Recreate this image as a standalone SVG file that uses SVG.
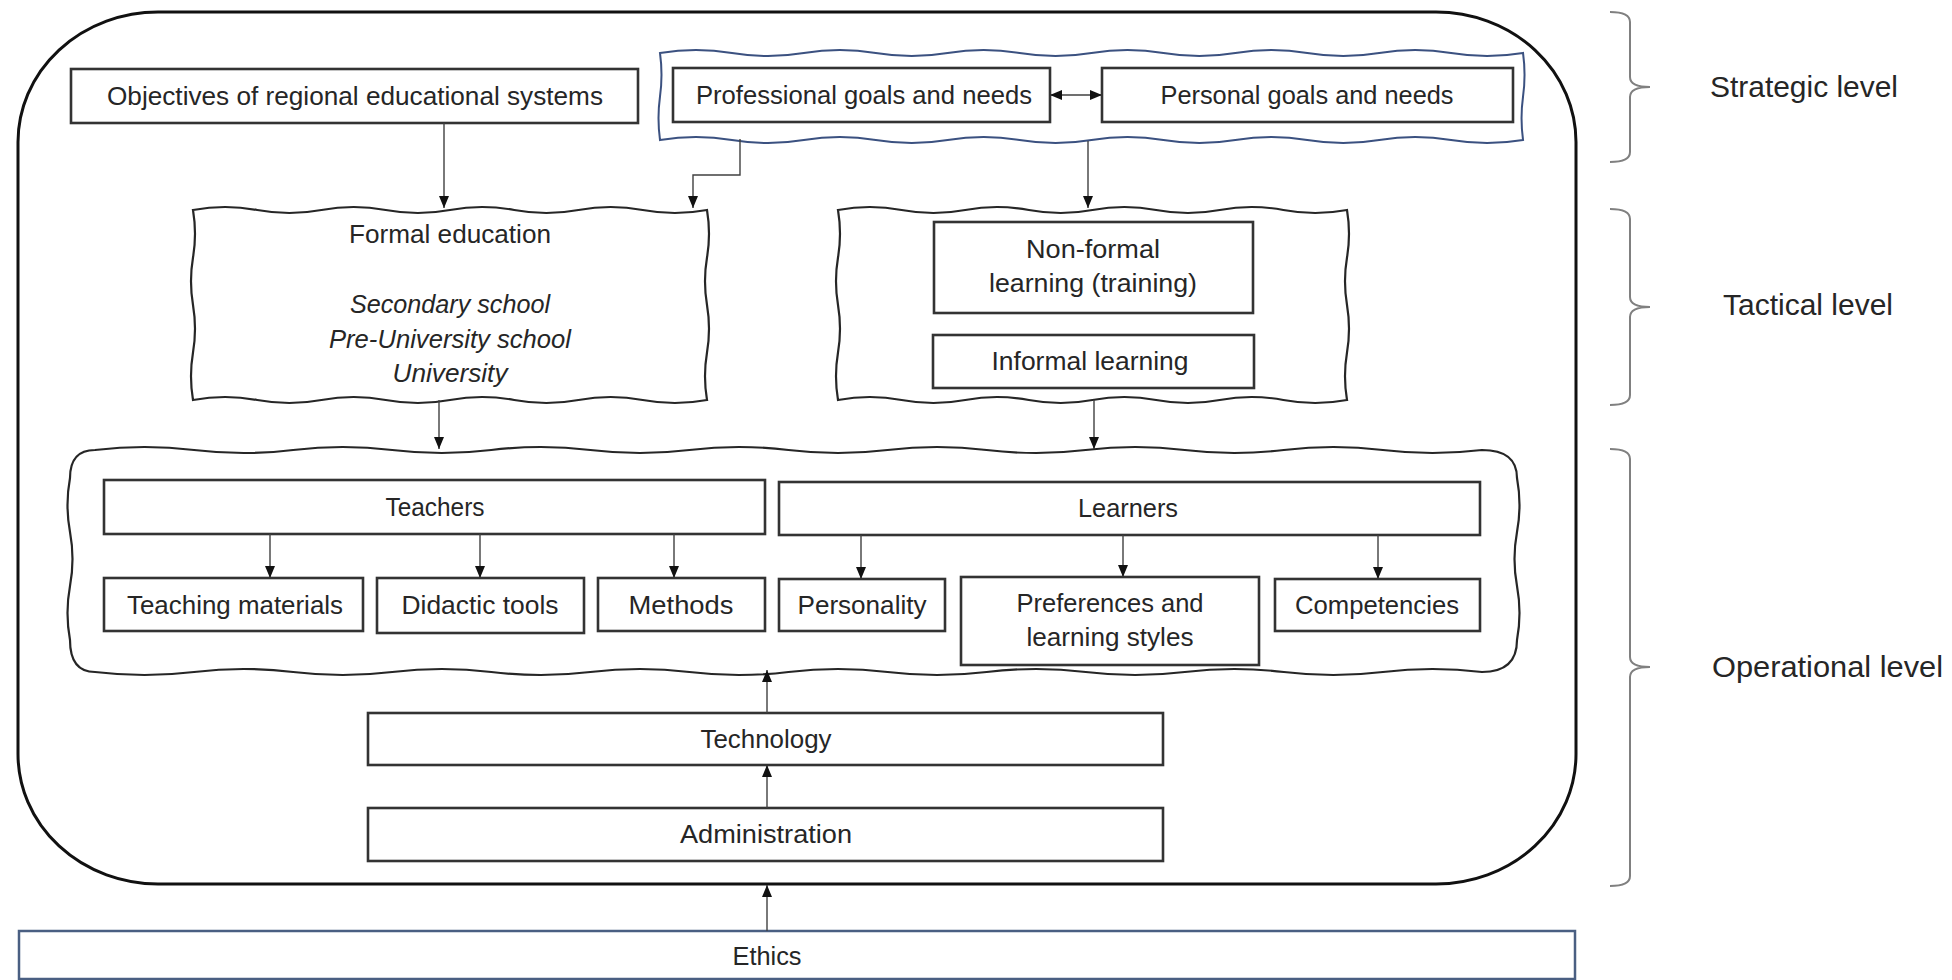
<svg xmlns="http://www.w3.org/2000/svg" width="1952" height="980" viewBox="0 0 1952 980">
<style>
.t{font-family:"Liberation Sans",Arial,sans-serif;font-size:25px;fill:#262626;text-anchor:middle}
.i{font-style:italic}
.lv{font-family:"Liberation Sans",Arial,sans-serif;font-size:30px;fill:#262626;text-anchor:start}
.box{fill:#fff;stroke:#333;stroke-width:2.6}
.wavy{fill:#fff;stroke:#262626;stroke-width:2.2}
.brace{fill:none;stroke:#808080;stroke-width:2}
</style>
<defs>
<marker id="ah" viewBox="0 0 12 10" refX="12" refY="5" markerWidth="12" markerHeight="10" markerUnits="userSpaceOnUse" orient="auto-start-reverse">
<path d="M0,0 L12,5 L0,10 Z" fill="#111"/>
</marker>
</defs>
<rect width="1952" height="980" fill="#fff"/>

<g id="outer"><rect x="18" y="12" width="1558" height="872" rx="140" ry="130" fill="none" stroke="#111" stroke-width="3"/></g>

<g id="strategic-container"><path fill="#fff" stroke="#3b5180" stroke-width="2" d="M660,53 q35.96,-6 71.92,0 t71.92,0 t71.92,0 t71.92,0 t71.92,0 t71.92,0 t71.92,0 t71.92,0 t71.92,0 t71.92,0 t71.92,0 t71.92,0 q3,21.75 0,43.5 t0,43.5 q-35.96,6 -71.92,0 t-71.92,0 t-71.92,0 t-71.92,0 t-71.92,0 t-71.92,0 t-71.92,0 t-71.92,0 t-71.92,0 t-71.92,0 t-71.92,0 t-71.92,0 q-3,-21.75 0,-43.5 t0,-43.5 Z"/></g>

<g id="objectives"><rect class="box" x="71" y="69" width="567" height="54"/><text class="t" x="355" y="105" textLength="496" lengthAdjust="spacingAndGlyphs">Objectives of regional educational systems</text></g>
<g id="professional"><rect class="box" x="673" y="68" width="377" height="54"/><text class="t" x="864" y="104" textLength="336" lengthAdjust="spacingAndGlyphs">Professional goals and needs</text></g>
<g id="personal"><rect class="box" x="1102" y="68" width="411" height="54"/><text class="t" x="1307" y="104" textLength="293" lengthAdjust="spacingAndGlyphs">Personal goals and needs</text></g>

<g id="formal"><path class="wavy" d="M193,210 q32.1,-6 64.25,0 t64.25,0 t64.25,0 t64.25,0 t64.25,0 t64.25,0 t64.25,0 t64.25,0 q4,23.75 0,47.5 t0,47.5 t0,47.5 t0,47.5 q-32.1,6 -64.25,0 t-64.25,0 t-64.25,0 t-64.25,0 t-64.25,0 t-64.25,0 t-64.25,0 t-64.25,0 q-4,-23.75 0,-47.5 t0,-47.5 t0,-47.5 t0,-47.5 Z"/>
<text class="t" x="450" y="243" textLength="202" lengthAdjust="spacingAndGlyphs">Formal education</text>
<text class="t i" x="450" y="313" textLength="200" lengthAdjust="spacingAndGlyphs">Secondary school</text>
<text class="t i" x="450" y="348" textLength="242" lengthAdjust="spacingAndGlyphs">Pre-University school</text>
<text class="t i" x="450" y="382" textLength="115" lengthAdjust="spacingAndGlyphs">University</text></g>

<g id="tactical-right"><path class="wavy" d="M838,210 q31.8,-6 63.625,0 t63.625,0 t63.625,0 t63.625,0 t63.625,0 t63.625,0 t63.625,0 t63.625,0 q4,23.75 0,47.5 t0,47.5 t0,47.5 t0,47.5 q-31.8,6 -63.625,0 t-63.625,0 t-63.625,0 t-63.625,0 t-63.625,0 t-63.625,0 t-63.625,0 t-63.625,0 q-4,-23.75 0,-47.5 t0,-47.5 t0,-47.5 t0,-47.5 Z"/></g>
<g id="nonformal"><rect class="box" x="934" y="222" width="319" height="91"/><text class="t" x="1093" y="258" textLength="134" lengthAdjust="spacingAndGlyphs">Non-formal</text><text class="t" x="1093" y="292" textLength="208" lengthAdjust="spacingAndGlyphs">learning (training)</text></g>
<g id="informal"><rect class="box" x="933" y="335" width="321" height="53"/><text class="t" x="1090" y="370" textLength="197" lengthAdjust="spacingAndGlyphs">Informal learning</text></g>

<g id="operational-container"><path class="wavy" d="M95,450 q49.5,-6 99.07,0 t99.07,0 t99.07,0 t99.07,0 t99.07,0 t99.07,0 t99.07,0 t99.07,0 t99.07,0 t99.07,0 t99.07,0 t99.07,0 t99.07,0 t99.07,0 Q1517,450 1517,478 q5,27 0,54 t0,54 t0,54 Q1517,672 1482,672 q-49.5,-6 -99.07,0 t-99.07,0 t-99.07,0 t-99.07,0 t-99.07,0 t-99.07,0 t-99.07,0 t-99.07,0 t-99.07,0 t-99.07,0 t-99.07,0 t-99.07,0 t-99.07,0 t-99.07,0 Q70,672 70,640 q-5,-27 0,-54 t0,-54 t0,-54 Q70,450 95,450 Z"/></g>

<g id="teachers"><rect class="box" x="104" y="480" width="661" height="54"/><text class="t" x="435" y="516" textLength="99" lengthAdjust="spacingAndGlyphs">Teachers</text></g>
<g id="learners"><rect class="box" x="779" y="482" width="701" height="53"/><text class="t" x="1128" y="517" textLength="100" lengthAdjust="spacingAndGlyphs">Learners</text></g>
<g id="teaching-materials"><rect class="box" x="104" y="578" width="259" height="53"/><text class="t" x="235" y="614" textLength="216" lengthAdjust="spacingAndGlyphs">Teaching materials</text></g>
<g id="didactic-tools"><rect class="box" x="377" y="578" width="207" height="55"/><text class="t" x="480" y="614" textLength="157" lengthAdjust="spacingAndGlyphs">Didactic tools</text></g>
<g id="methods"><rect class="box" x="598" y="578" width="167" height="53"/><text class="t" x="681" y="614" textLength="105" lengthAdjust="spacingAndGlyphs">Methods</text></g>
<g id="personality"><rect class="box" x="779" y="579" width="166" height="52"/><text class="t" x="862" y="614" textLength="129" lengthAdjust="spacingAndGlyphs">Personality</text></g>
<g id="preferences"><rect class="box" x="961" y="577" width="298" height="88"/><text class="t" x="1110" y="612" textLength="187" lengthAdjust="spacingAndGlyphs">Preferences and</text><text class="t" x="1110" y="646" textLength="167" lengthAdjust="spacingAndGlyphs">learning styles</text></g>
<g id="competencies"><rect class="box" x="1275" y="579" width="205" height="52"/><text class="t" x="1377" y="614" textLength="164" lengthAdjust="spacingAndGlyphs">Competencies</text></g>

<g id="technology"><rect class="box" x="368" y="713" width="795" height="52"/><text class="t" x="766" y="748" textLength="131" lengthAdjust="spacingAndGlyphs">Technology</text></g>
<g id="administration"><rect class="box" x="368" y="808" width="795" height="53"/><text class="t" x="766" y="843" textLength="172" lengthAdjust="spacingAndGlyphs">Administration</text></g>
<g id="ethics"><rect x="19" y="931" width="1556" height="48" fill="#fff" stroke="#4a5f82" stroke-width="2.5"/><text class="t" x="767" y="965" textLength="69" lengthAdjust="spacingAndGlyphs">Ethics</text></g>

<g id="connectors" fill="none" stroke="#404040" stroke-width="1.4">
<path d="M444,123 V208" marker-end="url(#ah)"/>
<path d="M740,139 V175 H693 V208" marker-end="url(#ah)"/>
<path d="M1088,141 V208" marker-end="url(#ah)"/>
<path d="M1050,95 H1102" marker-start="url(#ah)" marker-end="url(#ah)"/>
<path d="M439,400 V449" marker-end="url(#ah)"/>
<path d="M1094,400 V449" marker-end="url(#ah)"/>
<path d="M270,534 V578" marker-end="url(#ah)"/>
<path d="M480,534 V578" marker-end="url(#ah)"/>
<path d="M674,534 V578" marker-end="url(#ah)"/>
<path d="M861,535 V579" marker-end="url(#ah)"/>
<path d="M1123,535 V577" marker-end="url(#ah)"/>
<path d="M1378,535 V579" marker-end="url(#ah)"/>
<path d="M767,713 V670" marker-end="url(#ah)"/>
<path d="M767,808 V765" marker-end="url(#ah)"/>
<path d="M767,931 V885" marker-end="url(#ah)"/>
</g>

<g id="levels">
<path class="brace" d="M1610,12 Q1630,12 1630,22 V77 Q1630,87 1650,87 Q1630,87 1630,97 V152 Q1630,162 1610,162"/>
<path class="brace" d="M1610,209 Q1630,209 1630,219 V297 Q1630,307 1650,307 Q1630,307 1630,317 V395 Q1630,405 1610,405"/>
<path class="brace" d="M1610,449 Q1630,449 1630,459 V657 Q1630,667 1650,667 Q1630,667 1630,677 V876 Q1630,886 1610,886"/>
<text class="lv" x="1710" y="97" textLength="188" lengthAdjust="spacingAndGlyphs">Strategic level</text>
<text class="lv" x="1723" y="315" textLength="170" lengthAdjust="spacingAndGlyphs">Tactical level</text>
<text class="lv" x="1712" y="677" textLength="231" lengthAdjust="spacingAndGlyphs">Operational level</text>
</g>
</svg>
